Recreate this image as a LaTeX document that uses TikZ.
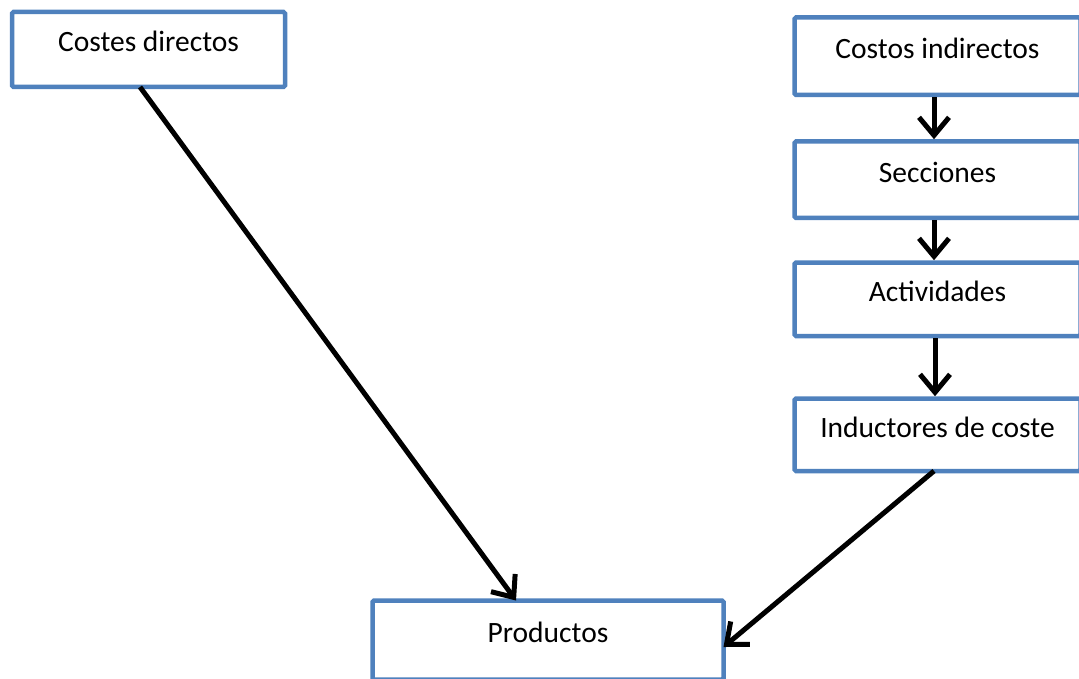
\documentclass[tikz,border=0pt]{standalone}
\usepackage{fontspec}
\setmainfont{Carlito}
\usetikzlibrary{arrows.meta}
\definecolor{boxblue}{HTML}{4F81BD}
\begin{document}
\begin{tikzpicture}[x=1pt,y=-1pt,
  box/.style={draw=boxblue, line width=4.5pt, fill=white, rounded corners=1.5pt,
    inner sep=0pt, text height=21pt, text depth=16pt,
    font=\fontsize{29.5}{33}\selectfont},
  conn/.style={line width=5pt, -{Straight Barb[length=18pt,width=30pt,line width=5pt]}}]
\useasboundingbox (0,0) rectangle (1079,679);
\clip (0,0) rectangle (1079,679);
\node[box, minimum width=273pt, minimum height=75pt] (cd) at (148.5,49.5) {Costes directos};
\node[box, minimum width=286pt, minimum height=77.5pt] (ci) at (937.5,56.25) {Costos indirectos};
\node[box, minimum width=286pt, minimum height=76.5pt] (se) at (937.5,179.75) {Secciones};
\node[box, minimum width=286pt, minimum height=73.5pt] (ac) at (937.5,299.25) {Actividades};
\node[box, minimum width=286pt, minimum height=72.5pt] (in) at (937.5,434.75) {Inductores de coste};
\node[box, minimum width=351pt, minimum height=79pt] (pr) at (548,640) {Productos};
\coordinate (cdS) at (140,87);
\coordinate (prN) at (516,600.5);
\coordinate (inS) at (934,471);
\coordinate (prE) at (723.5,647);
\draw[conn] (cdS) -- (prN);
\draw[conn] (ci.south -| 934,0) -- (se.north -| 934,0);
\draw[conn] (se.south -| 934,0) -- (ac.north -| 934,0);
\draw[conn] (ac.south -| 935,0) -- (in.north -| 935,0);
\draw[conn] (inS) -- (prE);
\end{tikzpicture}
\end{document}
